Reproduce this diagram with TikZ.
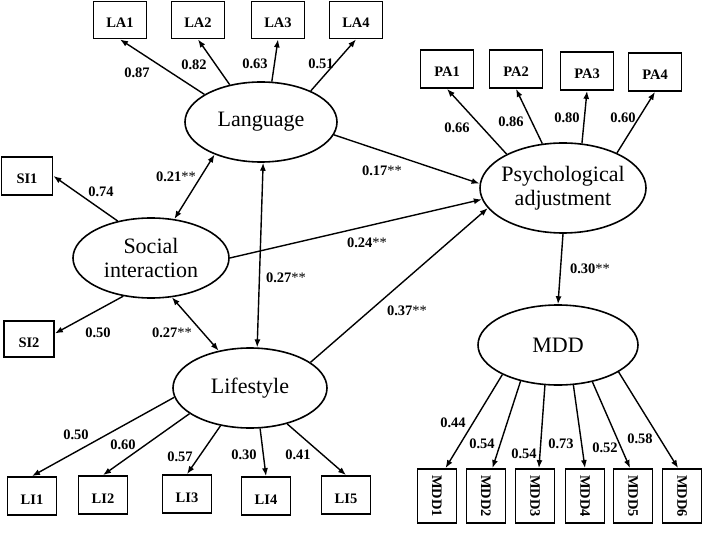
\documentclass[tikz,border=0pt]{standalone}
\usepackage{fontspec}
\setmainfont{Liberation Serif}
\usetikzlibrary{shapes.geometric, arrows.meta}
\tikzset{latent/.style={ellipse, draw, line width=1.6pt, inner sep=0pt, align=center, font=\fontsize{22}{23.5}\selectfont}}
\tikzset{obs/.style={rectangle, draw, line width=1.8pt, inner sep=0pt, minimum width=53pt, minimum height=37pt, font=\fontsize{14.5}{16}\selectfont\bfseries}}
\tikzset{item/.style={obs, text height=16pt, text depth=0pt}}
\tikzset{coef/.style={inner sep=0pt, font=\fontsize{14.5}{16}\selectfont\bfseries}}
\tikzset{load/.style={line width=1.4pt, -{Latex[length=8pt, width=6pt]}}}
\tikzset{corr/.style={line width=1.4pt, {Latex[length=8pt, width=6pt]}-{Latex[length=8pt, width=6pt]}}}
\newcommand{\sig}{\textmd{**}}

\begin{document}
\begin{tikzpicture}[x=1pt, y=-1pt]
    \useasboundingbox (0, 0) rectangle (703, 534);
    % latent factors
    \node[latent, minimum width=152pt, minimum height=80pt] (lang) at (261, 122) {Language};
    \node[latent, minimum width=166pt, minimum height=90pt, inner xsep=-12pt] (psych) at (563, 188) {Psychological\\adjustment};
    \node[latent, minimum width=156pt, minimum height=80pt] (soc) at (151, 258) {Social\\interaction};
    \node[latent, minimum width=154pt, minimum height=80pt] (life) at (250, 388) {Lifestyle};
    \node[latent, minimum width=160pt, minimum height=80pt] (mdd) at (558, 345) {MDD};
    % indicators
    \foreach \n/\t/\x in {la1/LA1/120, la2/LA2/198, la3/LA3/278, la4/LA4/356} {
        \node[item] (\n) at (\x, 20) {\t};
    }
    \foreach \n/\t/\x/\y in {pa1/PA1/447/69, pa2/PA2/516/69, pa3/PA3/587/71, pa4/PA4/655/72} {
        \node[item, minimum height=38pt] (\n) at (\x, \y) {\t};
    }
    \node[item, minimum width=51pt, minimum height=38pt] (si1) at (27, 176) {SI1};
    \node[item, minimum width=50pt, minimum height=36pt] (si2) at (29, 339) {SI2};
    \foreach \n/\t/\x/\y in {li1/LI1/32/496, li2/LI2/103/495, li3/LI3/187/494, li4/LI4/266/496, li5/LI5/346/495} {
        \node[item, minimum width=49pt, minimum height=38pt] (\n) at (\x, \y) {\t};
    }
    \foreach \i/\x in {1/437, 2/486, 3/535, 4/585, 5/633, 6/682} {
        \node[obs, minimum width=39pt, minimum height=54pt] (mdd\i) at (\x, 496) {\rotatebox{-90}{MDD\i}};
    }
    % loadings
    \foreach \a/\b in {154/la1, 130/la2, 75/la3, 32/la4} {
        \draw[load] (lang.\a) -- (\b.south);
    }
    \foreach \a/\b in {149/pa1, 115/pa2, 67/pa3, 33/pa4} {
        \draw[load] (psych.\a) -- (\b.south);
    }
    \draw[load] (soc.132) -- (si1.east);
    \draw[load] (soc.234) -- (si2.12);
    \foreach \a/\b in {187/li1, 203/li2, 232/li3, 284/li4, 316/li5} {
        \draw[load] (life.\a) -- (\b.north);
    }
    \foreach \a/\b/\c in {208/mdd1/73, 224/mdd2/77, 252/mdd3/82, 291/mdd4/90, 313/mdd5/96, 336/mdd6/98} {
        \draw[load] (mdd.\a) -- (\b.\c);
    }
    % structural paths
    \draw[load] (lang.-10) -- (psych.177);
    \draw[load] (soc.east) -- (psych.188);
    \draw[load] (life.23) -- (psych.195);
    \draw[load] (psych.south) -- (mdd.north);
    \draw[corr] (lang.215) -- (soc.59);
    \draw[corr] (lang.-87) -- (life.80);
    \draw[corr] (soc.298) -- (life.130);
    % coefficients
    \foreach \n/\t/\x/\y in {cla1/0.87/137/73, cla2/0.82/194/65, cla3/0.63/255/64, cla4/0.51/321/64,
        cpa1/0.66/457/128, cpa2/0.86/511/122, cpa3/0.80/567/118, cpa4/0.60/623/118,
        csi1/0.74/101/192, csi2/0.50/98/333,
        cli1/0.50/76/435, cli2/0.60/123/445, cli3/0.57/180/457, cli4/0.30/244/455, cli5/0.41/298/455,
        cm1/0.44/453/423, cm2/0.54/482/444, cm3/0.54/524/454, cm4/0.73/561/444, cm5/0.52/605/448, cm6/0.58/640/439} {
        \node[coef] (\n) at (\x, \y) {\t};
    }
    \foreach \n/\t/\x/\y in {clp/0.17/382/171, csp/0.24/367/243, cfp/0.37/407/311, cpm/0.30/590/269,
        cls/0.21/176/177, clf/0.27/286/278, csf/0.27/172/333} {
        \node[coef] (\n) at (\x, \y) {\t\sig};
    }
\end{tikzpicture}
\end{document}
